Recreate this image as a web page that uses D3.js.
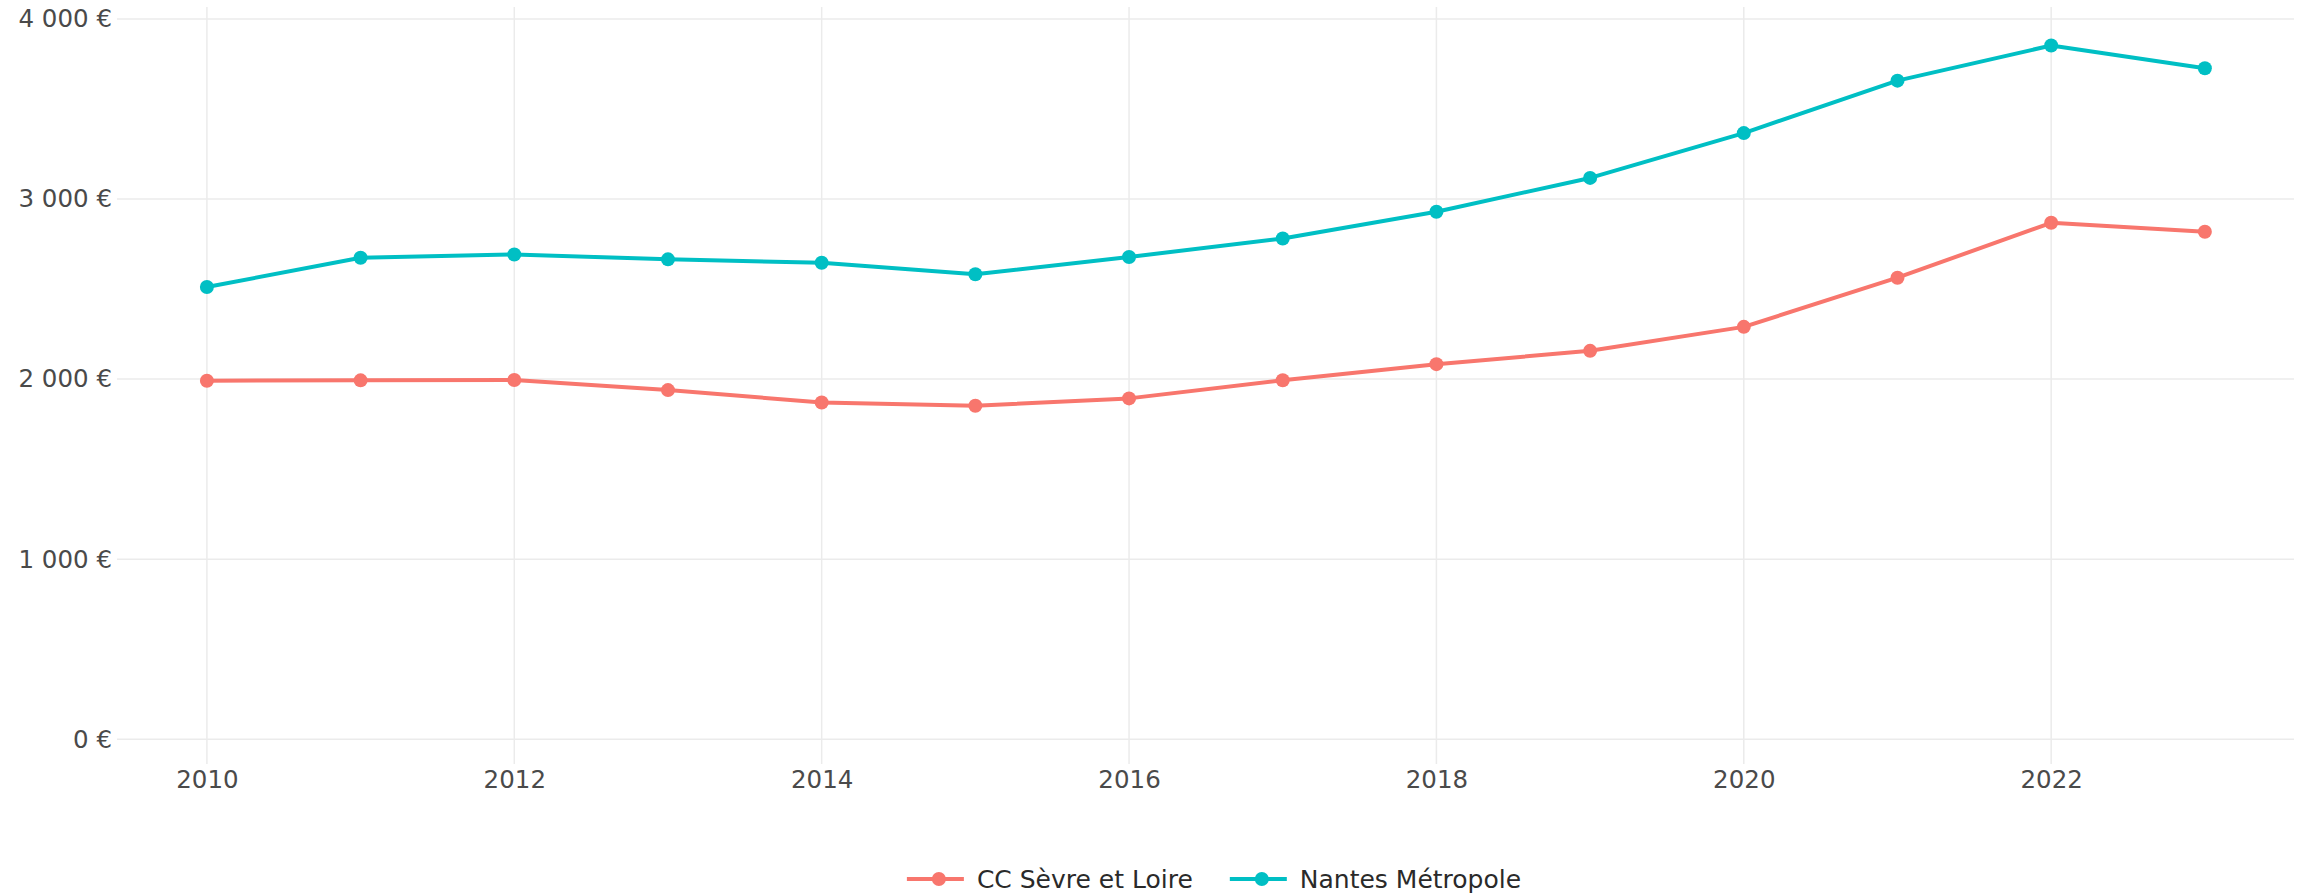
<!DOCTYPE html>
<html>
<head>
<meta charset="utf-8">
<script src="https://cdn.jsdelivr.net/npm/d3@7"></script>
<style>
  html, body { margin: 0; padding: 0; background: #fff; }
  svg { display: block; }
  text { font-family: "DejaVu Sans", Verdana, sans-serif; }
</style>
</head>
<body>
<svg id="chart" width="2303" height="894"></svg>
<script>
const years = [2010, 2011, 2012, 2013, 2014, 2015, 2016, 2017, 2018, 2019, 2020, 2021, 2022, 2023];
const seriesNames = ["CC Sèvre et Loire", "Nantes Métropole"];
const ccSevreLoire = [1991, 1993, 1995, 1939, 1870, 1852, 1893, 1994, 2083, 2157, 2290, 2563, 2868, 2818];
const nantesMetropole = [2511, 2674, 2692, 2665, 2646, 2582, 2678, 2781, 2929, 3117, 3366, 3657, 3852, 3726];
const seriesColors = ["#F8766D", "#00BFC4"];
const xTickValues = [2010, 2012, 2014, 2016, 2018, 2020, 2022];
const yTickValues = [0, 1000, 2000, 3000, 4000];

const svg = d3.select("#chart");
const plot = { left: 117, right: 2294, top: 7, bottom: 764 };

const x = d3.scaleLinear().domain([2009.415, 2023.58]).range([plot.left, plot.right]);
const y = d3.scaleLinear().domain([-137, 4066]).range([plot.bottom, plot.top]);

const fmtNum = v => d3.format(",")(v).replace(/,/g, " ") + " €";

// gridlines
const grid = svg.append("g");
grid.selectAll("line.v").data(xTickValues).enter().append("line")
  .attr("x1", d => x(d)).attr("x2", d => x(d))
  .attr("y1", plot.top).attr("y2", plot.bottom)
  .attr("stroke", "#ebebeb").attr("stroke-width", 1.5);
grid.selectAll("line.h").data(yTickValues).enter().append("line")
  .attr("x1", plot.left).attr("x2", plot.right)
  .attr("y1", d => y(d)).attr("y2", d => y(d))
  .attr("stroke", "#ebebeb").attr("stroke-width", 1.5);

// axes (labels only)
const yAxis = svg.append("g").attr("transform", `translate(${plot.left},0)`)
  .call(d3.axisLeft(y).tickValues(yTickValues).tickFormat(fmtNum).tickSize(0).tickPadding(5));
yAxis.select(".domain").remove();
yAxis.selectAll("text").attr("font-size", 24.5).attr("fill", "#4a4a4a")
  .style("font-family", "'DejaVu Sans', Verdana, sans-serif");

const xAxis = svg.append("g").attr("transform", `translate(0,${y(0) + 40})`)
  .call(d3.axisBottom(x).tickValues(xTickValues).tickFormat(d3.format("d")).tickSize(0).tickPadding(0));
xAxis.select(".domain").remove();
xAxis.selectAll("text").attr("font-size", 24.5).attr("fill", "#4a4a4a")
  .attr("dy", "0.35em")
  .style("font-family", "'DejaVu Sans', Verdana, sans-serif");

// series
const data = [ccSevreLoire, nantesMetropole];
const line = d3.line().x((d, i) => x(years[i])).y(d => y(d));
data.forEach((vals, k) => {
  svg.append("path").datum(vals)
    .attr("d", line).attr("fill", "none")
    .attr("stroke", seriesColors[k]).attr("stroke-width", 4)
    .attr("stroke-linejoin", "round");
  svg.append("g").selectAll("circle").data(vals).enter().append("circle")
    .attr("cx", (d, i) => x(years[i])).attr("cy", d => y(d))
    .attr("r", 7).attr("fill", seriesColors[k]);
});

// legend
const legend = svg.append("g");
const legY = 879;
let cx = 0;
seriesNames.forEach((name, k) => {
  const g = legend.append("g");
  g.append("line").attr("x1", cx).attr("x2", cx + 57).attr("y1", legY).attr("y2", legY)
    .attr("stroke", seriesColors[k]).attr("stroke-width", 4);
  g.append("circle").attr("cx", cx + 32).attr("cy", legY).attr("r", 7).attr("fill", seriesColors[k]);
  const t = g.append("text").attr("x", cx + 70).attr("y", legY).attr("dy", "0.35em")
    .attr("font-size", 25).attr("fill", "#2a2a2a").text(name);
  const w = t.node().getComputedTextLength();
  cx += 70 + w + 37;
});
const totalW = cx - 37;
legend.attr("transform", `translate(${1214 - totalW / 2},0)`);
</script>
</body>
</html>
